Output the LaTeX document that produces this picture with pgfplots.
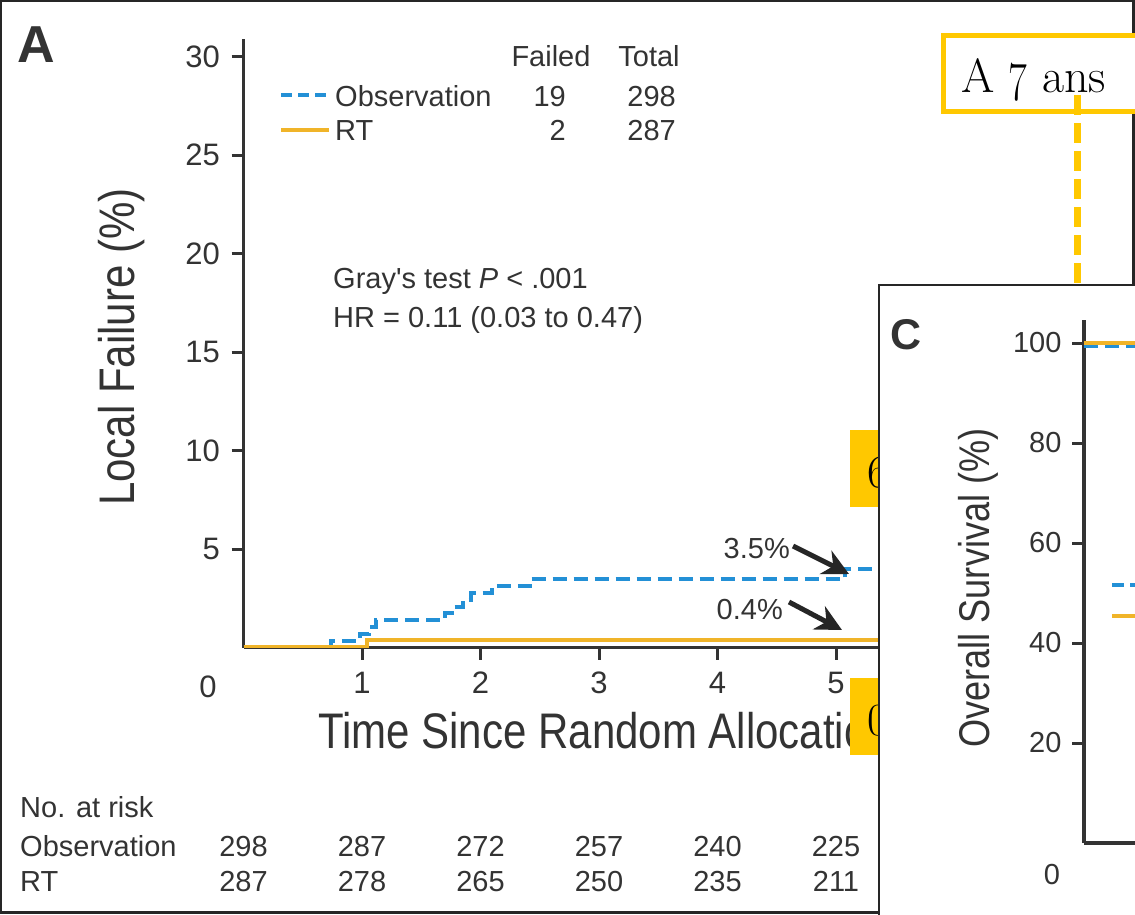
\documentclass[border=0pt]{standalone}
\usepackage{graphicx}
\usepackage{pgfplots}
\pgfplotsset{compat=1.18}
\usetikzlibrary{arrows.meta}
\usepackage{fontspec}
\newfontfamily\arial{Liberation Sans}
\newfontfamily\arialcond[FakeStretch=0.84]{Liberation Sans}

\definecolor{obsblue}{HTML}{2390D6}
\definecolor{rtorange}{HTML}{F0B429}
\definecolor{callout}{HTML}{FFC800}
\definecolor{ink}{HTML}{333333}

\newcommand{\fs}[1]{\fontsize{#1}{#1}\selectfont}

\begin{document}
\begin{tikzpicture}[x=1pt,y=1pt]
\useasboundingbox (0,0) rectangle (1135,-914);
\clip (0,0) rectangle (1135,-914);

% ---------------- Panel A: local failure ----------------
\begin{axis}[
  at={(243.5pt,-647.5pt)}, anchor=south west,
  scale only axis, width=888.75pt, height=608.7pt,
  xmin=0, xmax=7.5, ymin=0, ymax=30.9,
  axis x line*=bottom, axis y line*=left,
  axis line style={ink, line width=3.5pt, -},
  tick align=outside, major tick length=12pt,
  tick style={ink, line width=3pt},
  xtick={1,2,3,4,5,6,7}, ytick={5,10,15,20,25,30},
  /pgf/number format/assume math mode=true,
  tick label style={font=\arial\fs{31}, text=ink},
  xticklabel style={yshift=-9pt},
  yticklabel style={xshift=-8pt},
]
% Observation arm
\addplot[obsblue, line width=4pt, dash pattern=on 14pt off 7pt, const plot]
  coordinates {(0,0) (0.74,0.34) (0.98,0.68) (1.06,1.03) (1.12,1.38)
               (1.70,1.73) (1.78,2.08) (1.85,2.43) (1.92,2.78) (2.10,3.13)
               (2.42,3.50) (5.08,3.98) (7.5,3.98)};
% RT arm
\addplot[rtorange, line width=4pt, const plot]
  coordinates {(0,0.05) (1.04,0.4) (7.5,0.4)};
\end{axis}

\node[font=\arial\fs{31}, text=ink, anchor=base] at (208,-697) {0};
\node[font=\arial\bfseries\fs{52}, text=ink, anchor=base west, inner sep=0] at (17,-62) {A};

% legend
\begin{scope}[font=\arial\fs{29}, text=ink]
\node[anchor=base] at (551,-66) {Failed};
\node[anchor=base] at (649,-66) {Total};
\draw[obsblue, line width=4pt, dash pattern=on 11pt off 6pt] (281,-95) -- (327,-95);
\draw[rtorange, line width=4pt] (281,-130) -- (329,-130);
\node[anchor=base west, inner sep=0] at (335,-106) {Observation};
\node[anchor=base west, inner sep=0] at (335,-140) {RT};
\node[anchor=base east, inner sep=0] at (566,-106) {19};
\node[anchor=base east, inner sep=0] at (566,-140) {2};
\node[anchor=base east, inner sep=0] at (676,-106) {298};
\node[anchor=base east, inner sep=0] at (676,-140) {287};
\node[anchor=base west, inner sep=0] at (333,-288) {Gray's test \textit{P} < .001};
\node[anchor=base west, inner sep=0] at (333,-327) {HR = 0.11 (0.03 to 0.47)};
\node[anchor=base east, inner sep=0] at (790,-558) {3.5\%};
\node[anchor=base east, inner sep=0] at (783,-619) {0.4\%};
\end{scope}
\draw[black!85, line width=5pt, -{Stealth[length=26pt, width=26pt]}] (793,-546) -- (849,-574);
\draw[black!85, line width=5pt, -{Stealth[length=26pt, width=26pt]}] (789,-602) -- (842,-630);

% axis titles
\node[font=\arialcond\fs{50}, text=ink, anchor=base west, inner sep=0] at (318,-748)
  {Time Since Random Allocation (years)};
\node[font=\arialcond\fs{50}, text=ink, rotate=90, inner sep=0] at (122,-347) {Local Failure (\%)};

% numbers at risk
\begin{scope}[font=\arial\fs{29}, text=ink]
\node[anchor=base west, inner sep=0] at (20,-817) {No. at risk};
\node[anchor=base west, inner sep=0] at (20,-856) {Observation};
\node[anchor=base west, inner sep=0] at (20,-891) {RT};
\foreach \n [count=\i from 0] in {298,287,272,257,240,225}
  \node[anchor=base] at (243.5+118.5*\i,-856) {\n};
\foreach \n [count=\i from 0] in {287,278,265,250,235,211}
  \node[anchor=base] at (243.5+118.5*\i,-891) {\n};
\end{scope}

% small yellow call-outs on the right of panel A
\fill[callout] (850,-430) rectangle (980,-507);
\node[font=\fs{46}, anchor=base west, inner sep=0] at (867,-487) {6};
\fill[callout] (850,-678) rectangle (980,-755);
\node[font=\fs{46}, anchor=base west, inner sep=0] at (867,-735) {0};

% outer frame
\draw[black!85, line width=2.5pt] (1,-1) rectangle (1133.5,-912.5);

% ---------------- Panel C: overall survival ----------------
\draw[black!85, line width=2.5pt, fill=white] (879,-285) rectangle (1150,-930);
\node[font=\arial\bfseries\fs{43}, text=ink, anchor=base west, inner sep=0] at (890,-349) {C};
\begin{axis}[
  at={(1084pt,-843pt)}, anchor=south west,
  scale only axis, width=1000pt, height=523pt,
  xmin=0, xmax=10, ymin=0, ymax=104.6,
  axis x line*=bottom, axis y line*=left,
  axis line style={ink, line width=3.5pt, -},
  tick align=outside, major tick length=12pt,
  tick style={ink, line width=3pt},
  xtick=\empty, ytick={20,40,60,80,100},
  /pgf/number format/assume math mode=true,
  tick label style={font=\arial\fs{29}, text=ink},
  yticklabel style={xshift=-7pt},
]
\addplot[obsblue, line width=4pt, dash pattern=on 14pt off 7pt]
  coordinates {(0,99.5) (10,99.5)};
\addplot[rtorange, line width=4pt]
  coordinates {(0,100) (10,100)};
\end{axis}
\node[font=\arial\fs{29}, text=ink, anchor=base] at (1052,-884) {0};
\node[font=\arialcond\fs{43}, text=ink, rotate=90, inner sep=0] at (978,-588) {Overall Survival (\%)};
\draw[obsblue, line width=4pt, dash pattern=on 12pt off 6pt] (1112,-585) -- (1150,-585);
\draw[rtorange, line width=4pt] (1112,-616) -- (1150,-616);

% ---------------- call-out box ----------------
\draw[callout, line width=5pt, fill=white] (943,-35) rectangle (1170,-111);
\node[font=\fs{48}, anchor=base west, inner sep=0] at (961,-92)
  {A \raisebox{-8pt}{\scalebox{0.85}[1.15]{7}} ans};
\draw[callout, line width=7pt, dash pattern=on 20pt off 8pt] (1077,-95) -- (1077,-285);
\end{tikzpicture}
\end{document}
